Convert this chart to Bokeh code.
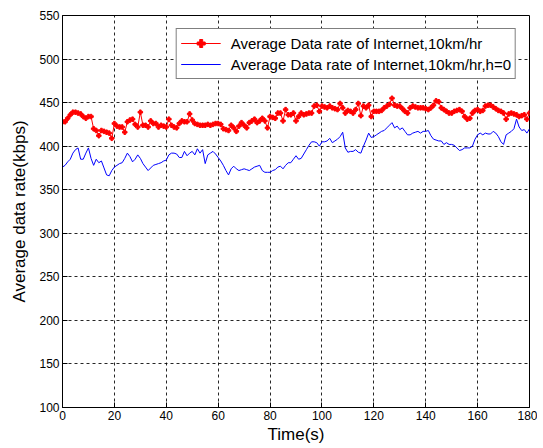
from bokeh.plotting import figure
from bokeh.models import FixedTicker, Range1d
from bokeh.embed import file_html
from bokeh.resources import INLINE

time_s = list(range(0, 181))

rate_10kmh = [
    428, 428, 432, 436, 439, 439, 438, 437, 434, 432,
    434, 434, 420, 418, 412, 418, 417, 416, 415, 409,
    426, 423, 422, 422, 416, 428, 430, 431, 425, 422,
    439, 424, 424, 422, 429, 426, 426, 422, 424, 423,
    422, 431, 424, 422, 421, 426, 429, 428, 428, 437,
    430, 426, 425, 424, 424, 424, 425, 424, 425, 426,
    426, 425, 420, 419, 418, 424, 421, 417, 423, 427,
    424, 421, 427, 429, 431, 427, 429, 432, 429, 421,
    434, 433, 432, 438, 438, 429, 442, 436, 436, 438,
    429, 434, 438, 436, 437, 438, 438, 446, 447, 440,
    446, 445, 444, 446, 444, 443, 442, 449, 444, 438,
    441, 440, 438, 442, 449, 435, 446, 444, 447, 434,
    440, 440, 440, 441, 444, 446, 448, 455, 447, 446,
    446, 443, 440, 438, 444, 446, 445, 444, 444, 444,
    443, 442, 444, 447, 452, 451, 444, 442, 440, 438,
    438, 440, 441, 442, 440, 434, 431, 432, 438, 441,
    442, 440, 441, 446, 447, 447, 445, 443, 441, 440,
    438, 431, 437, 438, 437, 436, 434, 435, 436, 431,
    438,
]

rate_10kmh_h0 = [
    376, 378, 382, 385, 392, 396, 398, 385, 385, 392,
    398, 386, 378, 385, 381, 383, 375, 367, 366, 372,
    376, 378, 380, 381, 386, 392, 388, 382, 385, 390,
    386, 380, 376, 372, 375, 378, 379, 380, 381, 383,
    384, 390, 392, 392, 391, 387, 387, 394, 389, 392,
    394, 390, 397, 392, 396, 380, 390, 392, 394, 391,
    387, 383, 378, 372, 367, 374, 377, 374, 372, 373,
    374, 373, 372, 374, 376, 377, 378, 372, 370, 370,
    370, 372, 373, 376, 377, 374, 378, 381, 381, 385,
    389, 385, 386, 391, 396, 401, 405, 405, 404, 400,
    405, 405, 406, 409, 404, 406, 408, 411, 416, 398,
    393, 394, 394, 396, 393, 392, 400, 407, 415, 410,
    411, 413, 415, 417, 418, 421, 424, 427, 421, 423,
    419, 421, 417, 413, 413, 415, 416, 417, 415, 417,
    417, 418, 412, 408, 407, 406, 406, 402, 404, 402,
    402, 401, 398, 395, 396, 398, 398, 398, 400, 408,
    413, 415, 413, 415, 414, 414, 417, 415, 411, 405,
    402, 413, 415, 417, 420, 431, 422, 418, 419, 415,
    420,
]

x_ticks = list(range(0, 181, 20))
y_ticks = list(range(100, 551, 50))

FONT = "Liberation Sans"

p = figure(
    width=537, height=446,
    output_backend="svg", toolbar_location=None,
    x_range=Range1d(0, 180), y_range=Range1d(100, 550),
    min_border_left=62, min_border_right=8, min_border_top=15, min_border_bottom=37,
)
p.background_fill_color = "white"
p.border_fill_color = "white"
p.outline_line_color = "black"
p.outline_line_width = 1

p.line(time_s, rate_10kmh, line_color="red", line_width=1,
       legend_label="Average Data rate of Internet,10km/hr")
p.scatter(time_s, rate_10kmh, marker="plus", size=4.5, fill_color="red", line_color="red",
          legend_label="Average Data rate of Internet,10km/hr")
p.line(time_s, rate_10kmh_h0, line_color="blue", line_width=1,
       legend_label="Average Data rate of Internet,10km/hr,h=0")

for ax in (p.xaxis, p.yaxis):
    ax.major_tick_in = 5
    ax.major_tick_out = 0
    ax.minor_tick_in = 0
    ax.minor_tick_out = 0
    ax.axis_line_color = "black"
    ax.major_tick_line_color = "black"
    ax.major_label_text_font = FONT
    ax.major_label_text_font_size = "12px"
    ax.major_label_text_color = "black"
    ax.axis_label_text_font = FONT
    ax.axis_label_text_font_size = "17px"
    ax.axis_label_text_font_style = "normal"
    ax.axis_label_text_color = "black"
    ax.major_label_standoff = 3

p.xaxis.ticker = FixedTicker(ticks=x_ticks)
p.yaxis.ticker = FixedTicker(ticks=y_ticks)
p.xaxis.axis_label = "Time(s)"
p.yaxis.axis_label = "Average data rate(kbps)"
p.xaxis.axis_label_standoff = 2
p.yaxis.axis_label_standoff = 7

p.xgrid.ticker = FixedTicker(ticks=x_ticks)
p.ygrid.ticker = FixedTicker(ticks=y_ticks)
for g in (p.xgrid, p.ygrid):
    g.grid_line_color = "black"
    g.grid_line_dash = "3 3"
    g.grid_line_alpha = 0.85
    g.grid_line_width = 1

lg = p.legend[0]
lg.location = "top_right"
lg.margin = 13
lg.padding = 4
lg.spacing = 1
lg.border_line_color = "black"
lg.border_line_width = 1
lg.background_fill_color = "white"
lg.background_fill_alpha = 1
lg.label_text_font = FONT
lg.label_text_font_size = "15px"
lg.label_text_color = "black"
lg.glyph_width = 40
lg.glyph_height = 20
lg.label_height = 20
lg.label_standoff = 10

open("out.html", "w").write(file_html(p, INLINE))
